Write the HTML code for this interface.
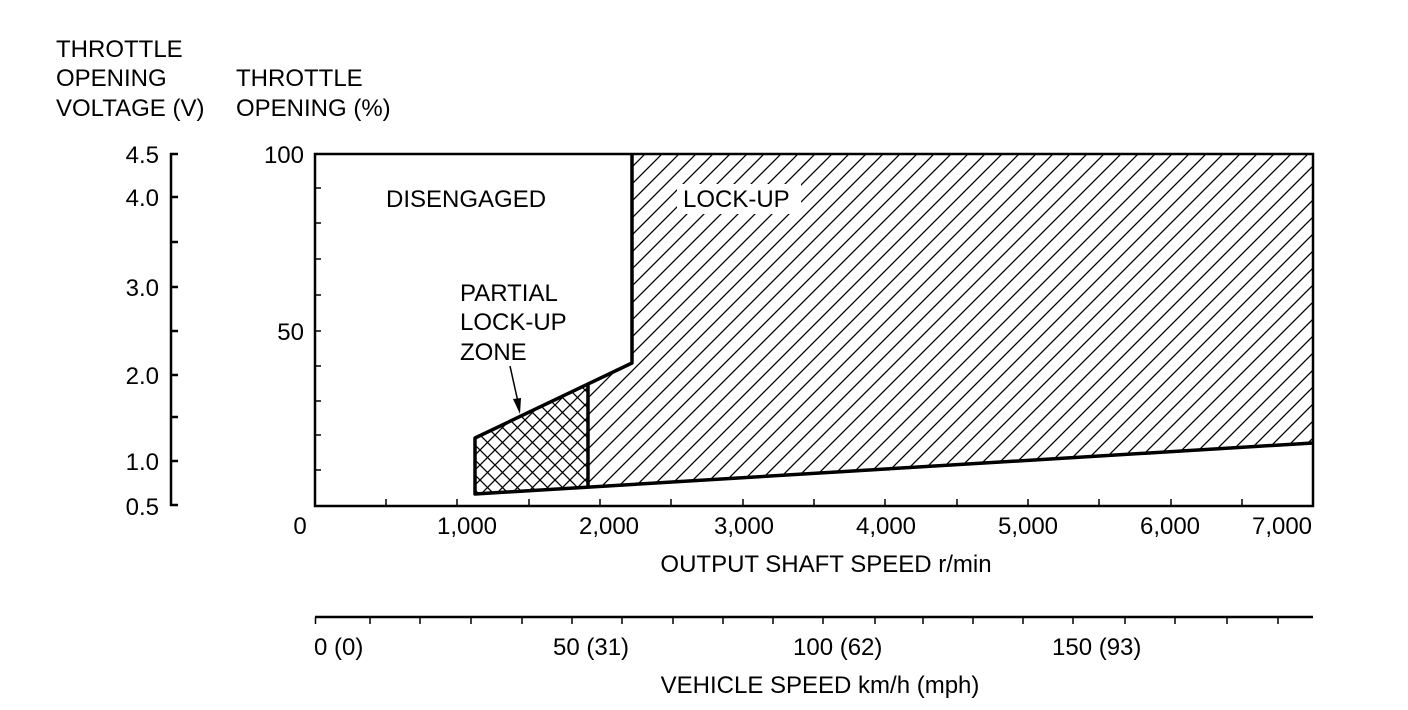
<!DOCTYPE html>
<html><head><meta charset="utf-8"><style>
html,body{margin:0;padding:0;background:#fff;}
svg{display:block;font-family:"Liberation Sans",Arial,sans-serif;}
text{font-size:24px;fill:#000;}
</style></head><body>
<svg width="1408" height="710" viewBox="0 0 1408 710" xmlns="http://www.w3.org/2000/svg">
<defs>
<pattern id="h" width="17" height="17" patternUnits="userSpaceOnUse">
<path d="M-2,2 L2,-2 M0,17 L17,0 M15,19 L19,15" stroke="#000" stroke-width="1.3"/>
</pattern>
<pattern id="x" width="15" height="15" patternUnits="userSpaceOnUse">
<path d="M-2,2 L2,-2 M0,15 L15,0 M13,17 L17,13 M-2,13 L2,17 M0,0 L15,15 M13,-2 L17,2" stroke="#000" stroke-width="1.3"/>
</pattern>
</defs>
<text x="56" y="57">THROTTLE</text>
<text x="56" y="86">OPENING</text>
<text x="56" y="116">VOLTAGE (V)</text>
<text x="236" y="86">THROTTLE</text>
<text x="236" y="116">OPENING (%)</text>
<!-- voltage axis -->
<g stroke="#000" stroke-width="2.5">
<line x1="171" y1="153" x2="171" y2="506"/>
<line x1="170" y1="154" x2="178" y2="154"/>
<line x1="170" y1="197" x2="178" y2="197"/>
<line x1="170" y1="242" x2="178" y2="242"/>
<line x1="170" y1="287" x2="178" y2="287"/>
<line x1="170" y1="331" x2="178" y2="331"/>
<line x1="170" y1="375" x2="178" y2="375"/>
<line x1="170" y1="417" x2="178" y2="417"/>
<line x1="170" y1="461" x2="178" y2="461"/>
<line x1="170" y1="505" x2="178" y2="505"/>
</g>
<g text-anchor="end">
<text x="159" y="163">4.5</text><text x="159" y="206">4.0</text>
<text x="159" y="296">3.0</text><text x="159" y="384">2.0</text>
<text x="159" y="470">1.0</text><text x="159" y="515">0.5</text>
<text x="304" y="163">100</text><text x="304" y="340">50</text>
</g>
<!-- regions -->
<polygon points="632,154 1313,154 1313,443 588,488 588,385 632,363" fill="url(#h)"/>
<polygon points="475,438 588,385 588,488 475,494" fill="url(#x)"/>
<rect x="677" y="184" width="124" height="30" fill="#fff"/>
<text x="683" y="207">LOCK-UP</text>
<!-- plot box -->
<rect x="315" y="154" width="998" height="352" fill="none" stroke="#000" stroke-width="2.5"/>
<g stroke="#000" stroke-width="1.5">
<line x1="315" y1="188" x2="321" y2="188"/><line x1="315" y1="223" x2="321" y2="223"/>
<line x1="315" y1="259" x2="321" y2="259"/><line x1="315" y1="295" x2="321" y2="295"/>
<line x1="315" y1="331" x2="321" y2="331"/><line x1="315" y1="366" x2="321" y2="366"/>
<line x1="315" y1="401" x2="321" y2="401"/><line x1="315" y1="435" x2="321" y2="435"/>
<line x1="315" y1="470" x2="321" y2="470"/>
<line x1="386" y1="506" x2="386" y2="499"/><line x1="457" y1="506" x2="457" y2="499"/>
<line x1="529" y1="506" x2="529" y2="499"/><line x1="600" y1="506" x2="600" y2="499"/>
<line x1="671" y1="506" x2="671" y2="499"/><line x1="743" y1="506" x2="743" y2="499"/>
<line x1="814" y1="506" x2="814" y2="499"/><line x1="885" y1="506" x2="885" y2="499"/>
<line x1="957" y1="506" x2="957" y2="499"/><line x1="1028" y1="506" x2="1028" y2="499"/>
<line x1="1099" y1="506" x2="1099" y2="499"/><line x1="1171" y1="506" x2="1171" y2="499"/>
<line x1="1242" y1="506" x2="1242" y2="499"/>
</g>
<g stroke="#000" stroke-width="3.5" fill="none" stroke-linejoin="round">
<polyline points="632,154 632,363 475,438 475,494 1313,443"/>
<line x1="588" y1="385" x2="588" y2="488"/>
</g>
<text x="386" y="207">DISENGAGED</text>
<text x="460" y="301">PARTIAL</text>
<text x="460" y="330">LOCK-UP</text>
<text x="460" y="360">ZONE</text>
<line x1="510" y1="366" x2="518" y2="402" stroke="#000" stroke-width="1.5"/>
<polygon points="520,414 513,399 521,398" fill="#000"/>
<g text-anchor="middle">
<text x="300" y="534">0</text><text x="467" y="534">1,000</text>
<text x="609" y="534">2,000</text><text x="744" y="534">3,000</text>
<text x="886" y="534">4,000</text><text x="1028" y="534">5,000</text>
<text x="1170" y="534">6,000</text><text x="1282" y="534">7,000</text>
<text x="826" y="572">OUTPUT SHAFT SPEED r/min</text>
<text x="820" y="693">VEHICLE SPEED km/h (mph)</text>
</g>
<!-- vehicle speed axis -->
<line x1="315" y1="617" x2="1313" y2="617" stroke="#000" stroke-width="2.5"/>
<g stroke="#000" stroke-width="1.5">
<line x1="315.5" y1="617" x2="315.5" y2="624"/><line x1="370" y1="617" x2="370" y2="624"/>
<line x1="420" y1="617" x2="420" y2="624"/><line x1="471" y1="617" x2="471" y2="624"/>
<line x1="522" y1="617" x2="522" y2="624"/><line x1="572" y1="617" x2="572" y2="624"/>
<line x1="622" y1="617" x2="622" y2="624"/><line x1="673" y1="617" x2="673" y2="624"/>
<line x1="723" y1="617" x2="723" y2="624"/><line x1="773" y1="617" x2="773" y2="624"/>
<line x1="823" y1="617" x2="823" y2="624"/><line x1="875" y1="617" x2="875" y2="624"/>
<line x1="923" y1="617" x2="923" y2="624"/><line x1="973" y1="617" x2="973" y2="624"/>
<line x1="1023" y1="617" x2="1023" y2="624"/><line x1="1073" y1="617" x2="1073" y2="624"/>
<line x1="1125" y1="617" x2="1125" y2="624"/><line x1="1175" y1="617" x2="1175" y2="624"/>
<line x1="1227" y1="617" x2="1227" y2="624"/><line x1="1278" y1="617" x2="1278" y2="624"/>
</g>
<text x="314" y="655">0 (0)</text>
<text x="553" y="655">50 (31)</text>
<text x="793" y="655">100 (62)</text>
<text x="1052" y="655">150 (93)</text>
</svg>
</body></html>
